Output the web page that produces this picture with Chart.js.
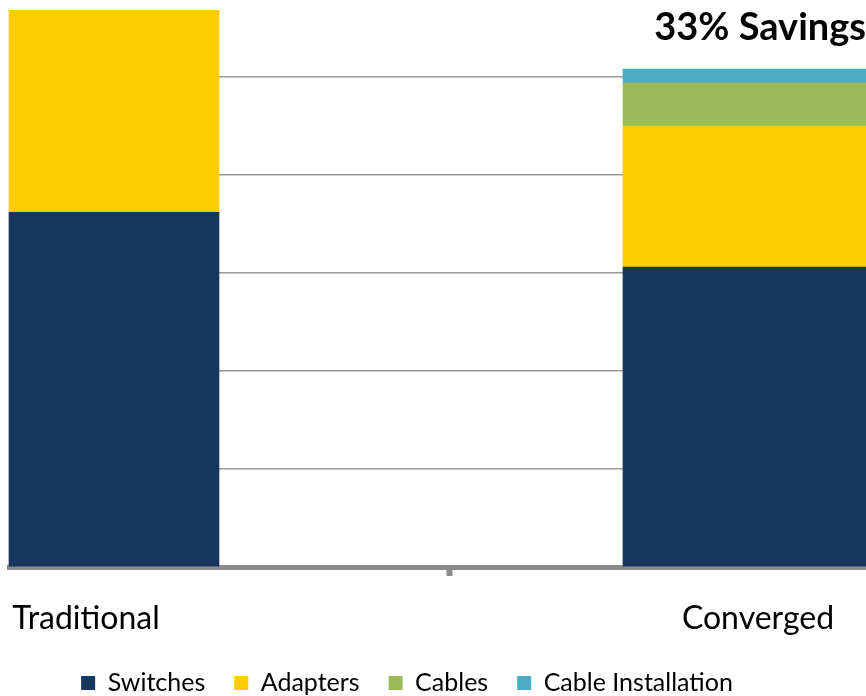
<!DOCTYPE html>
<html>
<head>
    <meta charset="UTF-8">
    <title>33% Savings</title>
    <script src="https://cdn.jsdelivr.net/npm/chart.js"></script>
    <style>
        html, body { margin: 0; padding: 0; background: #fff; overflow: hidden; }
        #wrap { position: relative; width: 866px; height: 696px; }
    </style>
</head>
<body>
<div id="wrap">
    <canvas id="savingsChart"></canvas>
</div>

<script>
    // Du lieu doc tu hinh
    const categories = ['Traditional', 'Converged'];
    const seriesNames = ['Switches', 'Adapters', 'Cables', 'Cable Installation'];
    const switches = [3.62, 3.06];
    const adapters = [2.06, 1.44];
    const cables = [0, 0.44];
    const cableInstallation = [0, 0.14];
    const yTicks = [0, 1, 2, 3, 4, 5];

    const seriesValues = [switches, adapters, cables, cableInstallation];
    const colors = ['#17375E', '#FFCC00', '#9BBB59', '#4BACC6'];
    const barWidths = [210, 326];   // hai cot khong cung do rong trong hinh goc

    // moi cot mot bo dataset rieng de co do rong rieng
    const datasets = [];
    categories.forEach(function(cat, i) {
        seriesNames.forEach(function(name, s) {
            datasets.push({
                label: name,
                data: [{ x: i, y: seriesValues[s][i] }],
                backgroundColor: colors[s],
                borderWidth: 0,
                barThickness: barWidths[i],
                clip: false
            });
        });
    });

    const ctx = document.getElementById('savingsChart').getContext('2d');
    new Chart(ctx, {
        type: 'bar',
        data: { datasets: datasets },
        options: {
            responsive: true,
            maintainAspectRatio: false,
            animation: false,
            layout: { padding: { left: -52, right: 0, top: 0, bottom: -9.5 } },
            plugins: {
                title: {
                    display: true,
                    text: '33% Savings',
                    align: 'end',
                    color: '#000',
                    font: { family: 'Lato', size: 38, weight: 'bold', lineHeight: 1.2 },
                    padding: { top: 4.9, bottom: 26.5 }
                },
                legend: {
                    position: 'bottom',
                    labels: {
                        filter: function(item) { return item.datasetIndex < seriesNames.length; },
                        color: '#000',
                        font: { family: 'Lato', size: 25 },
                        boxWidth: 14,
                        boxHeight: 14,
                        padding: 29
                    }
                },
                tooltip: { enabled: false }
            },
            scales: {
                x: {
                    type: 'linear',
                    stacked: true,
                    offset: false,
                    min: -0.15625,
                    max: 1.11905,
                    afterBuildTicks: function(scale) {
                        scale.ticks = [{ value: 0 }, { value: 0.5 }, { value: 1 }];
                    },
                    afterFit: function(scale) {
                        scale.height = 74.5;
                        scale.paddingLeft = 0;
                        scale.paddingRight = 0;
                    },
                    border: { display: true, color: '#8c8c8c', width: 5 },
                    grid: {
                        offset: false,
                        drawOnChartArea: false,
                        drawTicks: true,
                        tickLength: 9,
                        tickWidth: 6,
                        tickColor: function(c) {
                            return c.tick && c.tick.value === 0.5 ? '#8c8c8c' : 'rgba(0,0,0,0)';
                        }
                    },
                    ticks: {
                        autoSkip: false,
                        maxRotation: 0,
                        labelOffset: -28,
                        padding: 23,
                        color: '#000',
                        font: { family: 'Lato', size: 32 },
                        callback: function(value) {
                            return categories[value] !== undefined ? categories[value] : '';
                        }
                    }
                },
                y: {
                    stacked: true,
                    min: 0,
                    max: 5,
                    afterBuildTicks: function(scale) {
                        scale.ticks = yTicks.map(function(v) { return { value: v }; });
                    },
                    afterFit: function(scale) { scale.width = 61; },
                    border: { display: false },
                    grid: { color: '#999999', lineWidth: 1.5, drawTicks: false },
                    ticks: { display: false }
                }
            }
        }
    });
</script>
</body>
</html>
